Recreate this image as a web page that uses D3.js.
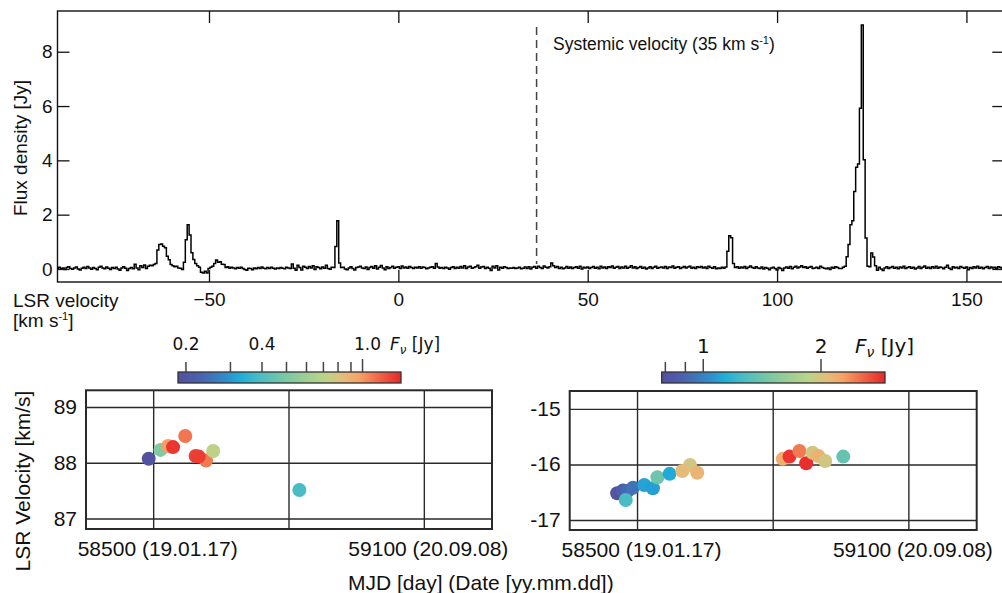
<!DOCTYPE html>
<html>
<head>
<meta charset="utf-8">
<script src="https://cdn.jsdelivr.net/npm/d3@7"></script>
<style>
  body { margin: 0; background: #fff; }
  svg text { font-family: "Liberation Sans", Arial, sans-serif; fill: #111; }
  .cb text { font-family: "DejaVu Sans", sans-serif; }
</style>
</head>
<body>
<svg id="chart" width="1002" height="593"></svg>
<script>
// ---- spectrum (0.5 km/s channels, first channel starts at -90.25 km/s)
var chanStart = -90.25, chanWidth = 0.5;
var flux = [
  0.03,0.06,0.01,0.04,-0.02,0.05,0.08,0.02,-0.01,0.04,0.07,0.00,-0.04,0.03,0.06,0.02,0.09,0.04,-0.01,0.05,
  0.02,-0.03,0.06,0.10,0.04,0.01,0.07,0.03,-0.02,0.05,0.02,0.06,0.00,-0.05,0.04,0.08,0.03,-0.06,0.02,0.05,
  0.01,0.17,0.04,-0.03,0.12,0.05,0.15,0.02,0.10,0.14,0.12,0.16,0.20,0.70,0.90,0.92,0.84,0.78,0.47,0.34,
  0.16,0.12,0.08,0.10,0.04,0.03,-0.02,0.25,1.08,1.63,1.25,0.60,0.35,0.20,0.12,0.06,-0.12,-0.15,-0.08,-0.15,
  0.02,0.06,0.10,0.20,0.33,0.25,0.27,0.17,0.16,0.05,0.08,0.03,0.06,0.04,0.01,0.05,0.03,0.06,0.02,-0.02,
  -0.05,0.03,0.02,-0.03,0.04,0.01,0.05,0.02,0.07,0.03,0.01,0.05,0.02,0.06,0.03,0.00,0.04,0.02,0.05,0.03,
  0.01,0.06,0.04,0.02,0.18,0.03,-0.05,0.14,0.05,-0.04,0.10,0.06,0.02,0.09,0.04,0.12,-0.02,0.08,0.05,0.01,
  0.07,0.03,0.14,0.02,-0.01,0.06,0.05,0.83,1.78,0.22,0.05,0.06,0.00,-0.03,0.04,0.08,0.02,-0.04,0.05,0.07,
  0.10,0.04,0.02,0.07,-0.02,0.05,0.09,0.03,0.12,0.00,0.06,0.13,0.04,-0.03,0.08,0.02,0.05,0.10,0.03,0.06,
  0.08,0.02,0.11,0.04,0.07,0.03,0.09,0.05,0.02,0.06,0.04,0.08,0.03,0.07,0.05,0.01,0.04,0.06,0.08,0.03,
  0.20,0.07,0.03,0.05,0.02,0.06,0.04,-0.01,0.05,0.08,0.02,0.06,0.03,0.09,0.04,0.12,0.02,0.07,0.10,0.03,
  0.05,0.08,0.14,0.03,0.07,0.09,0.02,0.06,0.03,-0.06,0.10,0.04,0.12,-0.04,0.06,0.03,0.08,0.05,0.02,0.04,
  0.03,0.05,0.02,0.04,0.06,0.01,0.03,0.07,0.02,0.08,0.00,0.06,0.09,0.03,0.10,0.05,0.02,0.11,0.06,0.04,
  0.08,0.22,0.12,0.05,0.09,0.02,0.06,0.01,0.04,0.09,0.03,0.07,0.02,0.05,0.08,0.03,0.10,0.00,0.06,0.04,
  0.07,0.02,0.05,0.09,0.03,0.06,0.01,0.10,0.04,0.07,0.02,0.08,0.05,0.11,0.03,0.06,0.09,0.02,0.07,0.04,
  0.10,0.03,0.06,0.12,0.04,0.08,0.02,0.05,0.09,0.03,0.06,0.00,0.04,0.08,0.02,0.06,0.10,0.03,0.05,0.07,
  0.04,0.09,0.02,0.07,0.05,0.11,0.03,0.06,0.08,0.02,0.05,0.09,0.04,0.07,0.10,0.03,0.06,0.02,0.08,0.05,
  0.09,0.04,0.07,0.02,0.10,0.05,0.03,0.08,0.01,0.04,0.02,0.06,0.03,0.07,0.65,1.22,1.15,0.20,0.05,0.08,
  0.03,0.07,0.04,0.09,0.02,0.06,0.11,0.05,0.03,0.08,0.04,0.02,0.07,0.00,0.05,0.03,-0.03,0.04,0.06,0.02,
  -0.04,0.05,0.02,-0.06,0.04,0.07,0.03,0.09,0.01,0.06,0.10,0.04,0.07,0.12,0.05,0.08,0.03,0.06,0.09,0.02,
  0.04,0.06,0.02,0.10,0.05,0.03,0.01,0.04,-0.02,0.06,0.03,0.08,0.05,0.02,0.02,0.06,0.10,0.45,0.90,1.63,
  1.78,2.85,3.75,3.87,5.92,8.98,4.02,1.14,0.10,0.08,0.59,0.44,0.12,-0.05,0.06,0.00,-0.06,0.04,0.08,0.02,
  0.05,0.09,0.03,0.06,0.01,0.07,0.04,0.10,0.02,0.05,0.08,0.03,0.06,0.00,0.04,0.09,0.02,0.06,0.11,0.03,
  0.06,0.02,0.08,0.04,0.10,0.03,0.07,0.05,0.01,0.06,0.14,0.03,-0.02,0.08,0.04,0.06,0.02,0.09,0.05,0.03,
  0.07,-0.03,0.05,0.02,0.08,0.04,0.10,0.03,0.06,0.01,0.05,0.09,0.02,0.07,0.04,0.06,0.03,0.08,0.05,0.02,
  0.04
];
var specXTicks = [-50, 0, 50, 100, 150];
var specYTicks = [0, 2, 4, 6, 8];
var systemicLineVel = 36.5;

// ---- maser spot monitoring (bottom panels)
var mjdGrid = [58500, 58800, 59100];
var mjdTicks = [58500, 59100];
var mjdTickLabels = ["58500 (19.01.17)", "59100 (20.09.08)"];

var leftMJD  = [58489, 58515, 58532, 58543, 58570, 58616, 58593, 58600, 58632, 58823];
var leftVel  = [88.08, 88.24, 88.31, 88.29, 88.49, 88.05, 88.13, 88.12, 88.22, 87.52];
var leftFlux = [0.19, 0.51, 0.98, 1.35, 1.11, 1.10, 1.30, 1.32, 0.72, 0.39];
var leftVelTicks = [87, 88, 89];

var rightMJD  = [58455, 58468, 58478, 58490, 58515, 58534, 58474, 58544, 58571, 58616, 58599, 58632,
                 58821, 58836, 58858, 58873, 58887, 58900, 58915, 58955];
var rightVel  = [-16.51, -16.46, -16.47, -16.41, -16.36, -16.42, -16.63, -16.22, -16.16, -16.00, -16.11, -16.14,
                 -15.89, -15.85, -15.75, -15.97, -15.78, -15.84, -15.93, -15.85];
var rightFlux = [0.80, 0.87, 0.92, 0.94, 1.10, 1.09, 1.27, 1.42, 1.12, 1.97, 2.08, 2.14,
                 2.19, 2.83, 2.46, 2.86, 1.99, 2.16, 1.97, 1.38];
var rightVelTicks = [-17, -16, -15];

// colour bars
var leftCbTicks = [0.2, 0.3, 0.4, 0.5, 0.6, 0.7, 0.8, 0.9, 1.0];
var leftCbLabels = ["0.2", "0.4", "1.0"];
var rightCbTicks = [0.8, 0.9, 1, 2];
var rightCbLabels = ["1", "2"];
var cmapStops = [0, 0.1, 0.22, 0.28, 0.36, 0.46, 0.56, 0.66, 0.75, 0.81, 0.89, 1];
var cmapColors = ["#53509f", "#4a62ae", "#2f8fcb", "#1eaed9", "#47bcc6", "#72c6a9", "#99cd95",
                  "#bbd488", "#e7b978", "#f7a367", "#f06d4a", "#e8262a"];

var svg = d3.select("#chart");

// ================= Top panel: spectrum =================
var sp = {left: 57.5, right: 1004.3, top: 11, bottom: 282};
var x = d3.scaleLinear().domain([-90, 160]).range([sp.left, sp.right]);
var y = d3.scaleLinear().domain([-0.48, 9.5]).range([sp.bottom, sp.top]);

svg.append("clipPath").attr("id", "specClip").append("rect")
  .attr("x", sp.left).attr("y", sp.top).attr("width", sp.right - sp.left).attr("height", sp.bottom - sp.top);

var pts = flux.map(function(f, i) { return [chanStart + i * chanWidth, f]; });
pts.push([chanStart + flux.length * chanWidth, flux[flux.length - 1]]);

// systemic velocity marker
svg.append("line")
  .attr("x1", x(systemicLineVel)).attr("x2", x(systemicLineVel))
  .attr("y1", 27).attr("y2", 264)
  .attr("stroke", "#444").attr("stroke-width", 1.5).attr("stroke-dasharray", "8,5");

svg.append("path")
  .datum(pts)
  .attr("clip-path", "url(#specClip)")
  .attr("fill", "none").attr("stroke", "#000").attr("stroke-width", 1.5)
  .attr("d", d3.line().x(function(d) { return x(d[0]); }).y(function(d) { return y(d[1]); }).curve(d3.curveStepAfter));

var ax;
ax = svg.append("g").attr("transform", "translate(0," + sp.bottom + ")")
  .call(d3.axisBottom(x).tickValues(specXTicks).tickSize(-12).tickPadding(11).tickFormat(d3.format("d")));
ax.selectAll("text").style("font-size", "19px");
ax = svg.append("g").attr("transform", "translate(0," + sp.top + ")")
  .call(d3.axisTop(x).tickValues(specXTicks).tickSize(-12).tickFormat(""));
ax = svg.append("g").attr("transform", "translate(" + sp.left + ",0)")
  .call(d3.axisLeft(y).tickValues(specYTicks).tickSize(-12).tickPadding(5));
ax.selectAll("text").style("font-size", "19px");
ax = svg.append("g").attr("transform", "translate(" + sp.right + ",0)")
  .call(d3.axisRight(y).tickValues(specYTicks).tickSize(-12).tickFormat(""));
svg.selectAll(".domain").remove();
svg.selectAll(".tick line").attr("stroke", "#111").attr("stroke-width", 1.3);

svg.append("rect")
  .attr("x", sp.left).attr("y", sp.top).attr("width", sp.right - sp.left).attr("height", sp.bottom - sp.top)
  .attr("fill", "none").attr("stroke", "#111").attr("stroke-width", 1.4);

svg.append("text").attr("transform", "translate(27,148) rotate(-90)")
  .attr("text-anchor", "middle").style("font-size", "19px").text("Flux density [Jy]");

var t = svg.append("text").attr("x", 13).attr("y", 307).style("font-size", "19px");
t.text("LSR velocity");
t = svg.append("text").attr("x", 13).attr("y", 327).style("font-size", "19px");
t.append("tspan").text("[km s");
t.append("tspan").attr("dy", -7).style("font-size", "11px").text("-1");
t.append("tspan").attr("dy", 7).text("]");

t = svg.append("text").attr("x", 553).attr("y", 50).style("font-size", "17.5px");
t.append("tspan").text("Systemic velocity (35 km s");
t.append("tspan").attr("dy", -6).style("font-size", "11px").text("-1");
t.append("tspan").attr("dy", 6).text(")");

// ================= colour map =================
var cmap = d3.scaleLinear().domain(cmapStops).range(cmapColors).interpolate(d3.interpolateRgb);

var grad = svg.append("defs").append("linearGradient").attr("id", "cmapGrad");
grad.selectAll("stop").data(cmapStops).enter().append("stop")
  .attr("offset", function(d) { return (d * 100) + "%"; })
  .attr("stop-color", function(d, i) { return cmapColors[i]; });

// ================= bottom panels =================
function drawPanel(o) {
  var px = d3.scaleLinear().domain([58350, 59250]).range([o.left, o.right]);
  var py = d3.scaleLinear().domain(o.velDomain).range([o.bottom, o.top]);
  var g = svg.append("g");

  g.selectAll(".vg").data(mjdGrid).enter().append("line")
    .attr("x1", px).attr("x2", px).attr("y1", o.top).attr("y2", o.bottom)
    .attr("stroke", "#2a2a2a").attr("stroke-width", 1.4);
  g.selectAll(".hg").data(o.velTicks).enter().append("line")
    .attr("x1", o.left).attr("x2", o.right).attr("y1", py).attr("y2", py)
    .attr("stroke", "#2a2a2a").attr("stroke-width", 1.4);

  g.selectAll(".yl").data(o.velTicks).enter().append("text")
    .attr("x", o.left - 9).attr("y", function(d) { return py(d) + 1; })
    .attr("text-anchor", "end").attr("dominant-baseline", "middle")
    .style("font-size", "21px").text(function(d) { return String(d); });
  g.selectAll(".xl").data(mjdTicks).enter().append("text")
    .attr("x", function(d) { return px(d) + 4; }).attr("y", o.bottom + 27)
    .attr("text-anchor", "middle").style("font-size", "21px")
    .text(function(d, i) { return mjdTickLabels[i]; });

  // colour bar
  var cx = d3.scaleLog().domain(o.cbDomain).range([o.cbLeft, o.cbRight]);
  var tnorm = d3.scaleLog().domain(o.cbDomain).range([0, 1]).clamp(true);
  var fmt = o.cbOneDecimal ? function(d) { return d.toFixed(1); } : function(d) { return String(d); };
  var cb = svg.append("g").attr("class", "cb");
  cb.append("rect").attr("x", o.cbLeft).attr("y", 372).attr("width", o.cbRight - o.cbLeft).attr("height", 11)
    .attr("fill", "url(#cmapGrad)").attr("stroke", "#333").attr("stroke-width", 1.3);
  cb.selectAll("line").data(o.cbTicks).enter().append("line")
    .attr("x1", cx).attr("x2", cx)
    .attr("y1", function(d) { return d >= 1 && o.cbLabels.indexOf(fmt(d)) >= 0 ? 359 : 362; })
    .attr("y2", 372).attr("stroke", "#444").attr("stroke-width", 1.5);
  cb.selectAll("text.lab").data(o.cbTicks.filter(function(d) { return o.cbLabels.indexOf(fmt(d)) >= 0; }))
    .enter().append("text").attr("class", "lab")
    .attr("x", function(d) { return cx(d) + (o.cbOneDecimal && d === 1 ? 5 : 0); })
    .attr("y", o.cbLabelY).attr("text-anchor", "middle").style("font-size", o.cbFont + "px")
    .text(fmt);
  var ft = cb.append("text").attr("x", o.fLabelX).attr("y", o.cbLabelY).style("font-size", o.cbFont + "px");
  ft.append("tspan").style("font-style", "italic").text("F");
  ft.append("tspan").attr("dy", 4).style("font-size", (o.cbFont * 0.7) + "px").style("font-style", "italic").text("ν");
  ft.append("tspan").attr("dy", -4).text(" [Jy]");

  // points
  g.selectAll("circle").data(o.mjd).enter().append("circle")
    .attr("cx", function(d) { return px(d); })
    .attr("cy", function(d, i) { return py(o.vel[i]); })
    .attr("r", 7)
    .attr("fill", function(d, i) { return cmap(tnorm(o.flux[i])); });

  g.append("rect").attr("x", o.left).attr("y", o.top).attr("width", o.right - o.left).attr("height", o.bottom - o.top)
    .attr("fill", "none").attr("stroke", "#2a2a2a").attr("stroke-width", 2);
}

drawPanel({
  left: 86, right: 492, top: 390.3, bottom: 529, velDomain: [86.82, 89.31], velTicks: leftVelTicks,
  mjd: leftMJD, vel: leftVel, flux: leftFlux,
  cbDomain: [0.186, 1.42], cbLeft: 178, cbRight: 401, cbTicks: leftCbTicks, cbLabels: leftCbLabels,
  cbOneDecimal: true, cbLabelY: 350, cbFont: 17, fLabelX: 390
});
drawPanel({
  left: 569.7, right: 976.7, top: 391, bottom: 530, velDomain: [-17.17, -14.67], velTicks: rightVelTicks,
  mjd: rightMJD, vel: rightVel, flux: rightFlux,
  cbDomain: [0.783, 2.915], cbLeft: 661.7, cbRight: 885, cbTicks: rightCbTicks, cbLabels: rightCbLabels,
  cbOneDecimal: false, cbLabelY: 353, cbFont: 20, fLabelX: 855
});

svg.append("text").attr("transform", "translate(30,481) rotate(-90)")
  .attr("text-anchor", "middle").style("font-size", "21px").text("LSR Velocity [km/s]");
svg.append("text").attr("x", 348).attr("y", 590).style("font-size", "21px").text("MJD [day] (Date [yy.mm.dd])");
</script>
</body>
</html>
